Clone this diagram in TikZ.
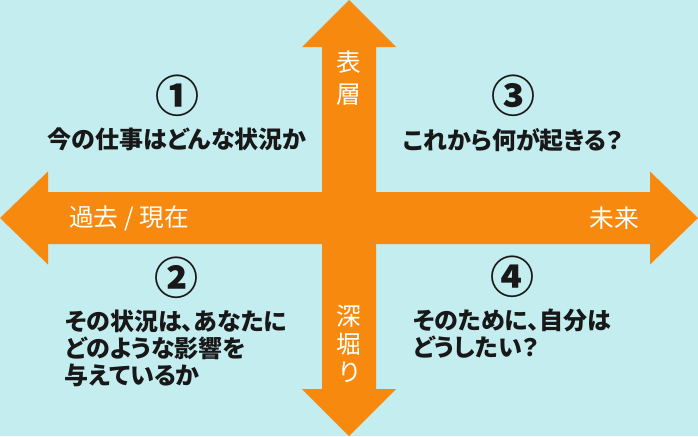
\documentclass[tikz,border=0pt]{standalone}
\usepackage{fontspec}
\newfontfamily\jpfont[RawFeature=+palt]{Noto Sans CJK JP}
\usetikzlibrary{positioning}
\definecolor{bgcyan}{RGB}{196,237,240}
\definecolor{axisorange}{RGB}{246,137,14}
\definecolor{textdark}{RGB}{24,24,24}
\tikzset{
  axis/.style      = {fill=axisorange},
  number/.style    = {font=\jpfont\bfseries\fontsize{33}{33}\selectfont, text=textdark, inner sep=0pt},
  question/.style  = {font=\jpfont\bfseries\fontsize{18}{20}\selectfont, text=textdark,
                      inner sep=0pt, align=left},
  axislabel/.style = {font=\jpfont\fontsize{18.5}{20}\selectfont, text=white, inner sep=0pt,
                      align=center}
}

\begin{document}
\begin{tikzpicture}[x=0.75pt, y=-0.75pt, node distance=8pt]
\fill[bgcyan] (0,0) rectangle (698,436);
\useasboundingbox (0,0) rectangle (698,436);

% time axis
\fill[axis] (0,218) -- (48,171.5) -- (48,192) -- (650,192) -- (650,171.5) -- (698,218)
  -- (650,264.5) -- (650,244) -- (48,244) -- (48,264.5) -- cycle;
% depth axis
\fill[axis] (349,0) -- (396,47) -- (376,47) -- (376,389) -- (396,389) -- (349,436)
  -- (302,389) -- (322,389) -- (322,47) -- (302,47) -- cycle;

\node[axislabel] (past) at (129,218) {過去 / 現在};
\node[axislabel] (future) at (614,218) {未来};
\node[axislabel, font=\jpfont\fontsize{18.5}{24.5}\selectfont] (surface) at (349,78) {表\\層};
\node[axislabel, font=\jpfont\fontsize{18.5}{21}\selectfont] (deep) at (349,344) {深\\堀\\り};

\node[number] (q1) at (177,96) {①};
\node[question, below= of q1] (t1) {今の仕事はどんな状況か};
\node[number] (q2) at (176,278) {②};
\node[question, below= of q2] (t2) {その状況は、あなたに\\どのような影響を\\与えているか};
\node[number] (q3) at (513,96) {③};
\node[question, below= of q3] (t3) {これから何が起きる？};
\node[number] (q4) at (512,277) {④};
\node[question, below= of q4] (t4) {そのために、自分は\\どうしたい？};

\end{tikzpicture}
\end{document}
